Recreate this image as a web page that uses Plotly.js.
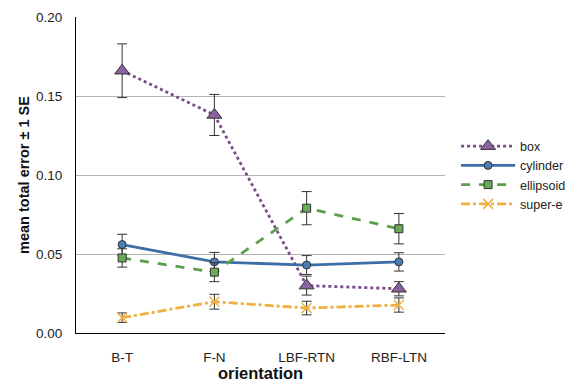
<!DOCTYPE html>
<html><head><meta charset="utf-8">
<script src="https://cdn.plot.ly/plotly-3.0.1.min.js"></script>
<style>body{margin:0;background:#fff}#c{width:583px;height:382px}</style>
</head><body><div id="c"></div>
<script>
const categories = ["B-T", "F-N", "LBF-RTN", "RBF-LTN"];
const boxMean = [0.166, 0.138, 0.030, 0.028];
const boxSE = [0.017, 0.013, 0.006, 0.0045];
const cylMean = [0.056, 0.045, 0.043, 0.045];
const cylSE = [0.0065, 0.006, 0.006, 0.0058];
const ellMean = [0.0475, 0.0385, 0.079, 0.066];
const ellSE = [0.0058, 0.006, 0.0105, 0.0096];
const supMean = [0.0097, 0.0198, 0.0158, 0.0177];
const supSE = [0.003, 0.0047, 0.0043, 0.0045];

function tr(name, y, se, color, fill, dash, symbol, size) {
  return {
    type: "scatter", mode: "lines+markers", name: name, x: categories, y: y,
    line: {color: color, width: 2.8, dash: dash},
    marker: {symbol: symbol, size: size, color: fill, line: {color: symbol === "x-thin" ? fill : "#333", width: symbol === "x-thin" ? 1.5 : 1}},
    error_y: {type: "data", array: se, visible: true, color: "#333", thickness: 1, width: 5}
  };
}
const data = [
  tr("box", boxMean, boxSE, "#7b4b8c", "#8a62a0", "dot", "triangle-up", 13),
  tr("cylinder", cylMean, cylSE, "#3d6ea6", "#4a7db5", "solid", "circle", 8),
  tr("ellipsoid", ellMean, ellSE, "#5c9e4b", "#6aab57", "dash", "square", 8),
  tr("super-e", supMean, supSE, "#f0b040", "#f0b040", "dashdot", "x-thin", 10)
];
const layout = {
  width: 583, height: 382,
  margin: {l: 76, r: 122, t: 17, b: 49},
  paper_bgcolor: "#fff", plot_bgcolor: "#fff",
  font: {family: "Liberation Sans, Arial, sans-serif", size: 13.5, color: "#222"},
  xaxis: {type: "category", range: [-0.5, 3.5], showgrid: false, zeroline: false,
    showline: true, linecolor: "#000", linewidth: 1, ticks: "outside", ticklen: 12, tickcolor: "rgba(0,0,0,0)",
    tickfont: {size: 13.5, color: "#222"}, automargin: false,
    title: {text: "<b>orientation</b>", font: {size: 16.5, color: "#111"}, standoff: 2}},
  yaxis: {range: [0, 0.2], dtick: 0.05, tickformat: ".2f", showgrid: true, gridcolor: "#b4b4b4", gridwidth: 1,
    zeroline: false, showline: true, linecolor: "#000", linewidth: 1, ticks: "outside", ticklen: 10, tickcolor: "rgba(0,0,0,0)",
    tickfont: {size: 13.5, color: "#222"}, automargin: false,
    title: {text: "<b>mean total error ± 1 SE</b>", font: {size: 14.5, color: "#111"}, standoff: 2}},
  legend: {x: 1.03, y: 0.5, xanchor: "left", yanchor: "middle", font: {size: 12.5, color: "#222"},
    itemwidth: 54, tracegroupgap: 0, bgcolor: "rgba(0,0,0,0)"},
  showlegend: true
};
Plotly.newPlot("c", data, layout, {displayModeBar: false, staticPlot: true});
</script></body></html>
